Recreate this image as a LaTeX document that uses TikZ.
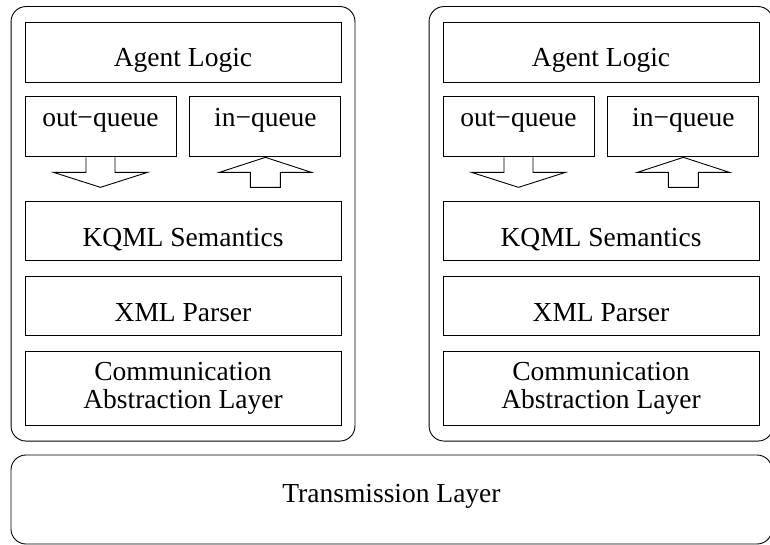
\documentclass[tikz,border=0pt]{standalone}
\usepackage{fontspec}
\setmainfont{Liberation Serif}
\usetikzlibrary{positioning,fit}

\begin{document}
\begin{tikzpicture}[x=1pt,y=1pt,line width=0.9pt,
                    every node/.style={font=\fontsize{27.5}{27.5}\selectfont}]
  \tikzstyle{layer}=[draw,minimum width=316pt,minimum height=59pt,inner sep=0pt,align=center]
  \tikzstyle{onerow}=[layer,text height=45pt,text depth=14pt]
  \tikzstyle{queue}=[draw,minimum width=151pt,inner xsep=0pt,inner ysep=4pt,text height=26pt,text depth=26pt]
  \tikzstyle{agent}=[draw,rounded corners=15pt,inner xsep=13.5pt,inner ysep=15pt]
  \useasboundingbox (0,0) rectangle (770,-545);

  \foreach \a/\dx in {A/0,B/418} {
    \node[onerow,text depth=15pt] (logic\a) at (183+\dx,-52) {Agent Logic};
    \node[queue,below right=14pt and 0pt of logic\a.south west] (out\a) {out−queue};
    \node[queue,right=13pt of out\a] (in\a) {in−queue};
    \node[onerow,below right=44pt and 0pt of out\a.south west] (kqml\a) {KQML Semantics};
    \node[onerow,below=15pt of kqml\a] (xml\a) {XML Parser};
    \node[layer,minimum height=74pt,below=15pt of xml\a] (comm\a) {Communication\\Abstraction Layer};
    \node[agent,fit=(logic\a)(comm\a)] (agent\a) {};

    % queue arrows
    \draw (out\a.south) ++(-14.5,0) -- ++(0,-15) -- ++(-32.5,0) -- ++(47,-15)
          -- ++(47,15) -- ++(-32.5,0) -- ++(0,15);
    \draw (in\a.south) -- ++(-46,-15) -- ++(31,0) -- ++(0,-15) -- ++(30,0)
          -- ++(0,15) -- ++(31,0) -- cycle;
  }

  \node[draw,rounded corners=15pt,minimum width=761pt,minimum height=89pt,
        inner ysep=4pt,text height=43pt,text depth=38pt] (trans) at (391.5,-499.5) {Transmission Layer};
\end{tikzpicture}
\end{document}
